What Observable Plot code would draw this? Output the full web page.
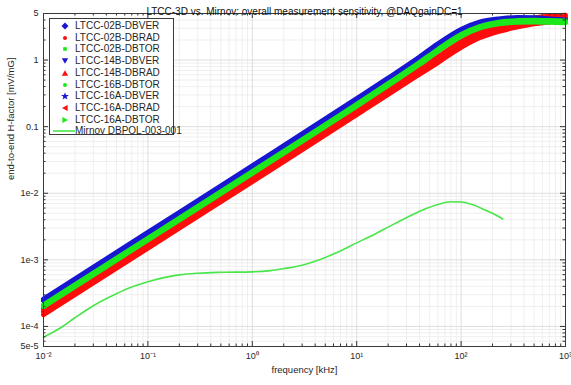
<!DOCTYPE html>
<html><head><meta charset="utf-8">
<script src="https://cdn.jsdelivr.net/npm/d3@7"></script>
<script src="https://cdn.jsdelivr.net/npm/@observablehq/plot@0.6"></script>
<style>
body{margin:0;background:#fff;font-family:"Liberation Sans",Arial,sans-serif;}
#wrap{position:relative;width:571px;height:385px;}
#legend{position:absolute;left:49px;top:18px;width:125px;height:117px;border:1px solid #3a3a3a;background:#fff;box-sizing:border-box;font-size:10px;color:#262626;}
.row{position:absolute;left:0;height:12px;line-height:12px;white-space:nowrap;}
.row svg{position:absolute;left:0;top:0;}
.row span{position:absolute;left:25px;top:0;}
</style></head><body><div id="wrap"><div id="legend"></div></div>
<script>
// ---------- data ----------
const freq = [0.01, 0.1, 1, 10, 20, 40, 60, 100, 150, 230, 350, 500, 700, 1000];
const ltcc02B_DBVER = [2.58e-4, 2.58e-3, 0.0258, 0.263, 0.535, 1.11, 1.75, 2.88, 3.7, 4.15, 4.35, 4.3, 4.15, 4.0];
const ltcc14B_DBVER = [2.5e-4, 2.5e-3, 0.025, 0.255, 0.52, 1.08, 1.7, 2.8, 3.6, 4.05, 4.25, 4.2, 4.05, 3.9];
const ltcc16A_DBVER = [2.43e-4, 2.43e-3, 0.0243, 0.247, 0.505, 1.05, 1.65, 2.72, 3.5, 3.93, 4.12, 4.07, 3.93, 3.78];
const ltcc02B_DBTOR = [2.11e-4, 2.11e-3, 0.0211, 0.216, 0.443, 0.917, 1.44, 2.42, 3.19, 3.71, 3.91, 3.97, 3.91, 3.86];
const ltcc16B_DBTOR = [2.05e-4, 2.05e-3, 0.0205, 0.21, 0.43, 0.89, 1.4, 2.35, 3.1, 3.6, 3.8, 3.85, 3.8, 3.75];
const ltcc16A_DBTOR = [1.99e-4, 1.99e-3, 0.0199, 0.204, 0.417, 0.863, 1.36, 2.28, 3.01, 3.49, 3.69, 3.73, 3.69, 3.64];
const ltcc02B_DBRAD = [1.84e-4, 1.84e-3, 0.0184, 0.185, 0.374, 0.748, 1.12, 1.89, 2.64, 3.3, 3.85, 4.29, 4.55, 4.7];
const ltcc14B_DBRAD = [1.67e-4, 1.67e-3, 0.0167, 0.168, 0.34, 0.68, 1.02, 1.72, 2.4, 3.0, 3.5, 3.9, 4.15, 4.35];
const ltcc16A_DBRAD = [1.5e-4, 1.5e-3, 0.015, 0.151, 0.306, 0.612, 0.918, 1.55, 2.16, 2.7, 3.15, 3.51, 3.74, 3.92];

const mirnovFreq = [0.01, 0.015, 0.02, 0.03, 0.05, 0.07, 0.1, 0.15, 0.2, 0.3, 0.5, 1, 1.5, 2, 3, 4, 6, 10, 15, 20, 30, 45, 60, 80, 100, 130, 170, 200, 250];
const mirnovH = [6.9e-5, 9.8e-5, 1.35e-4, 2.05e-4, 3.1e-4, 3.9e-4, 4.7e-4, 5.5e-4, 5.95e-4, 6.3e-4, 6.5e-4, 6.6e-4, 6.9e-4, 7.4e-4, 8.3e-4, 9.5e-4, 1.22e-3, 1.8e-3, 2.45e-3, 3.1e-3, 4.3e-3, 5.8e-3, 6.8e-3, 7.45e-3, 7.4e-3, 6.7e-3, 5.6e-3, 5.0e-3, 4.1e-3];

const seriesNames = ["LTCC-02B-DBVER","LTCC-02B-DBRAD","LTCC-02B-DBTOR","LTCC-14B-DBVER","LTCC-14B-DBRAD","LTCC-16B-DBTOR","LTCC-16A-DBVER","LTCC-16A-DBRAD","LTCC-16A-DBTOR"];
const mirnovName = "Mirnov DBPOL-003-001";

const xTicks = [0.01, 0.1, 1, 10, 100, 1000];
const xTickLabels = ["10\u207B\u00B2","10\u207B\u00B9","10\u2070","10\u00B9","10\u00B2","10\u00B3"];
const yTicks = [5e-5, 1e-4, 1e-3, 1e-2, 0.1, 1, 5];
const yTickLabels = ["5e-5","1e-4","1e-3","1e-2","0.1","1","5"];

const titleText = "LTCC-3D vs. Mirnov: overall measurement sensitivity, @DAQgainDC=1";
const xLabel = "frequency [kHz]";
const yLabel = "end-to-end H-factor [mV/mG]";

// ---------- build ----------
const BLUE = "#1818d2", RED = "#ff0c0c", GREEN = "#1ce81c", MGREEN = "#48e648";
const valuesByName = {
  "LTCC-02B-DBVER": ltcc02B_DBVER, "LTCC-02B-DBRAD": ltcc02B_DBRAD, "LTCC-02B-DBTOR": ltcc02B_DBTOR,
  "LTCC-14B-DBVER": ltcc14B_DBVER, "LTCC-14B-DBRAD": ltcc14B_DBRAD, "LTCC-16B-DBTOR": ltcc16B_DBTOR,
  "LTCC-16A-DBVER": ltcc16A_DBVER, "LTCC-16A-DBRAD": ltcc16A_DBRAD, "LTCC-16A-DBTOR": ltcc16A_DBTOR
};
const colorOf = n => n.endsWith("VER") ? BLUE : n.endsWith("RAD") ? RED : GREEN;
const drawOrder = [...seriesNames.filter(n=>n.endsWith("RAD")), ...seriesNames.filter(n=>n.endsWith("VER")), ...seriesNames.filter(n=>n.endsWith("TOR"))];
const lineMarks = drawOrder.map(n => Plot.line(freq.map((f,i)=>({f, v: valuesByName[n][i]})), {x:"f", y:"v", stroke: colorOf(n), strokeWidth: 5, curve: "monotone-x"}));
const mirnov = mirnovFreq.map((f,i)=>({f, v: mirnovH[i]}));

const xMinor = [], yMinor = [];
for (const d of [0.01, 0.1, 1, 10, 100]) for (let k = 2; k <= 9; k++) xMinor.push(k*d);
for (const d of [1e-5, 1e-4, 1e-3, 1e-2, 0.1, 1]) for (let k = 2; k <= 9; k++) { const v = k*d; if (v > 5e-5 && v < 5) yMinor.push(v); }
const yMajorGrid = yTicks.filter(v => v > 5e-5 && v < 5);

const W = 571, H = 385, mL = 43, mR = 6, mT = 13, mB = 39;
const fW = W - mL - mR, fH = H - mT - mB;

const chart = Plot.plot({
  width: W, height: H, marginLeft: mL, marginRight: mR, marginTop: mT, marginBottom: mB,
  style: {fontFamily: "'Liberation Sans', Arial, sans-serif", fontSize: "9px", color: "#262626", background: "#fff"},
  x: {type: "log", domain: [0.01, 1000], axis: null},
  y: {type: "log", domain: [5e-5, 5], axis: null},
  marks: [
    Plot.ruleX(xMinor, {stroke: "#ebebeb", strokeWidth: 0.8}),
    Plot.ruleY(yMinor, {stroke: "#ebebeb", strokeWidth: 0.8}),
    Plot.ruleX(xTicks, {stroke: "#d6d6d6", strokeWidth: 0.8}),
    Plot.ruleY(yMajorGrid, {stroke: "#d6d6d6", strokeWidth: 0.8}),
    ...lineMarks,
    Plot.line(mirnov, {x:"f", y:"v", stroke: MGREEN, strokeWidth: 1.6, curve: "monotone-x"}),
    // inner ticks
    Plot.tickX(xTicks, {x: d=>d, insetTop: fH - 5, stroke: "#333"}),
    Plot.tickX(xTicks, {x: d=>d, insetBottom: fH - 5, stroke: "#333"}),
    Plot.tickX(xMinor, {x: d=>d, insetTop: fH - 2.5, stroke: "#333"}),
    Plot.tickX(xMinor, {x: d=>d, insetBottom: fH - 2.5, stroke: "#333"}),
    Plot.tickY(yTicks, {y: d=>d, insetRight: fW - 5, stroke: "#333"}),
    Plot.tickY(yTicks, {y: d=>d, insetLeft: fW - 5, stroke: "#333"}),
    Plot.tickY(yMinor, {y: d=>d, insetRight: fW - 2.5, stroke: "#333"}),
    Plot.tickY(yMinor, {y: d=>d, insetLeft: fW - 2.5, stroke: "#333"}),
    Plot.frame({stroke: "#3a3a3a", strokeWidth: 1}),
    // tick labels
    Plot.text(xTicks, {x: d=>d, text: (d,i)=>xTickLabels[i], frameAnchor: "bottom", dy: 12, fontSize: 9, fill: "#262626"}),
    Plot.text(yTicks, {y: d=>d, text: (d,i)=>yTickLabels[i], frameAnchor: "left", dx: -5, textAnchor: "end", fontSize: 9, fill: "#262626"}),
    Plot.text([xLabel], {text: d=>d, frameAnchor: "bottom", dy: 26, fontSize: 9.5, fill: "#262626"}),
    Plot.text([yLabel], {text: d=>d, frameAnchor: "left", dx: -33, rotate: -90, fontSize: 9.5, fill: "#262626"}),
    Plot.text([titleText], {text: d=>d, frameAnchor: "top", dy: -6, fontSize: 10, fill: "#111"})
  ]
});
const wrap = document.getElementById("wrap");
wrap.insertBefore(chart, wrap.firstChild);

// legend
const markerSvg = {
  "LTCC-02B-DBVER": `<polygon points="15,2.5 18.5,6 15,9.5 11.5,6" fill="${BLUE}"/>`,
  "LTCC-02B-DBRAD": `<circle cx="15" cy="6" r="2" fill="${RED}"/>`,
  "LTCC-02B-DBTOR": `<rect x="13.2" y="4.2" width="3.6" height="3.6" fill="${GREEN}"/>`,
  "LTCC-14B-DBVER": `<polygon points="11.8,3.2 18.2,3.2 15,8.8" fill="${BLUE}"/>`,
  "LTCC-14B-DBRAD": `<polygon points="11.8,8.8 18.2,8.8 15,3.2" fill="${RED}"/>`,
  "LTCC-16B-DBTOR": `<circle cx="15" cy="6" r="2" fill="${GREEN}"/>`,
  "LTCC-16A-DBVER": `<polygon points="15,2.2 16,5 19,5 16.6,6.8 17.5,9.6 15,7.9 12.5,9.6 13.4,6.8 11,5 14,5" fill="${BLUE}"/>`,
  "LTCC-16A-DBRAD": `<polygon points="12,6 17.6,3 17.6,9" fill="${RED}"/>`,
  "LTCC-16A-DBTOR": `<polygon points="18,6 12.4,3 12.4,9" fill="${GREEN}"/>`
};
const leg = document.getElementById("legend");
[...seriesNames, mirnovName].forEach((n, i) => {
  const row = document.createElement("div");
  row.className = "row";
  row.style.top = (1 + 11.7 * i) + "px";
  const sym = n === mirnovName ? `<line x1="3" y1="6" x2="25" y2="6" stroke="${MGREEN}" stroke-width="1.6"/>` : markerSvg[n];
  row.innerHTML = `<svg width="26" height="12">${sym}</svg><span>${n}</span>`;
  leg.appendChild(row);
});
</script>
</body></html>
